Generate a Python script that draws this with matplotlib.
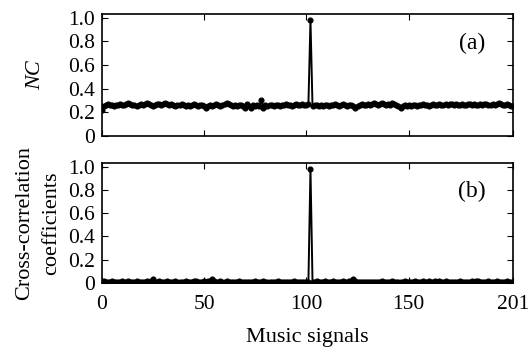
import matplotlib.pyplot as plt
import numpy as np

plt.rcParams["font.family"] = ["Liberation Serif", "DejaVu Serif"]
plt.rcParams["mathtext.fontset"] = "stix"

# signal index 0..201
signals = np.arange(202)

nc = [
    0.22, 0.25, 0.26, 0.27, 0.26, 0.26, 0.25, 0.26, 0.26, 0.27,
    0.26, 0.26, 0.27, 0.28, 0.27, 0.26, 0.26, 0.25, 0.26, 0.27,
    0.26, 0.27, 0.28, 0.27, 0.26, 0.25, 0.26, 0.27, 0.27, 0.26,
    0.27, 0.28, 0.27, 0.26, 0.27, 0.26, 0.25, 0.26, 0.26, 0.27,
    0.26, 0.25, 0.26, 0.25, 0.26, 0.27, 0.26, 0.25, 0.26, 0.26,
    0.25, 0.24, 0.25, 0.26, 0.25, 0.26, 0.27, 0.26, 0.25, 0.26,
    0.27, 0.28, 0.27, 0.26, 0.25, 0.26, 0.25, 0.26, 0.26, 0.25,
    0.24, 0.27, 0.25, 0.24, 0.26, 0.25, 0.26, 0.25, 0.30, 0.24,
    0.26, 0.25, 0.26, 0.26, 0.25, 0.26, 0.26, 0.25, 0.26, 0.26,
    0.27, 0.26, 0.26, 0.25, 0.26, 0.27, 0.26, 0.26, 0.27, 0.26,
    0.26, 0.27, 0.98, 0.25, 0.26, 0.26, 0.25, 0.26, 0.25, 0.26,
    0.26, 0.25, 0.26, 0.26, 0.27, 0.26, 0.25, 0.26, 0.27, 0.26,
    0.25, 0.26, 0.26, 0.25, 0.24, 0.25, 0.26, 0.27, 0.26, 0.26,
    0.27, 0.26, 0.27, 0.28, 0.27, 0.26, 0.27, 0.28, 0.27, 0.26,
    0.27, 0.26, 0.28, 0.27, 0.26, 0.25, 0.24, 0.25, 0.26, 0.25,
    0.26, 0.25, 0.26, 0.26, 0.25, 0.26, 0.26, 0.27, 0.26, 0.26,
    0.25, 0.26, 0.27, 0.26, 0.26, 0.27, 0.26, 0.26, 0.27, 0.26,
    0.27, 0.27, 0.26, 0.27, 0.26, 0.26, 0.27, 0.26, 0.26, 0.27,
    0.27, 0.26, 0.27, 0.26, 0.26, 0.27, 0.26, 0.27, 0.27, 0.26,
    0.26, 0.27, 0.26, 0.27, 0.28, 0.27, 0.26, 0.26, 0.27, 0.26,
    0.25, 0.25,
]

cc = [
    0.01, 0.02, 0.01, 0.01, 0.01, 0.02, 0.01, 0.01, 0.01, 0.01,
    0.02, 0.01, 0.01, 0.02, 0.01, 0.01, 0.01, 0.02, 0.01, 0.01,
    0.01, 0.01, 0.02, 0.01, 0.02, 0.03, 0.01, 0.01, 0.02, 0.01,
    0.01, 0.01, 0.02, 0.01, 0.01, 0.01, 0.02, 0.01, 0.01, 0.01,
    0.01, 0.02, 0.01, 0.01, 0.01, 0.02, 0.02, 0.01, 0.01, 0.01,
    0.02, 0.01, 0.02, 0.02, 0.03, 0.02, 0.01, 0.01, 0.02, 0.01,
    0.01, 0.02, 0.01, 0.01, 0.01, 0.01, 0.01, 0.02, 0.01, 0.01,
    0.01, 0.01, 0.01, 0.01, 0.01, 0.02, 0.01, 0.01, 0.01, 0.02,
    0.01, 0.01, 0.01, 0.01, 0.01, 0.01, 0.02, 0.01, 0.01, 0.01,
    0.01, 0.01, 0.01, 0.01, 0.02, 0.01, 0.01, 0.01, 0.01, 0.01,
    0.01, 0.01, 0.98, 0.01, 0.01, 0.02, 0.01, 0.01, 0.01, 0.02,
    0.01, 0.01, 0.01, 0.02, 0.01, 0.01, 0.01, 0.01, 0.02, 0.01,
    0.01, 0.02, 0.02, 0.03, 0.02, 0.01, 0.01, 0.01, 0.01, 0.01,
    0.01, 0.01, 0.01, 0.01, 0.01, 0.01, 0.01, 0.02, 0.01, 0.01,
    0.01, 0.01, 0.02, 0.01, 0.01, 0.01, 0.01, 0.01, 0.02, 0.01,
    0.01, 0.01, 0.01, 0.02, 0.01, 0.01, 0.01, 0.02, 0.01, 0.01,
    0.02, 0.01, 0.01, 0.02, 0.01, 0.02, 0.01, 0.01, 0.02, 0.01,
    0.01, 0.01, 0.01, 0.01, 0.01, 0.02, 0.01, 0.01, 0.01, 0.01,
    0.01, 0.02, 0.01, 0.02, 0.02, 0.01, 0.01, 0.01, 0.01, 0.02,
    0.01, 0.01, 0.01, 0.02, 0.01, 0.01, 0.01, 0.01, 0.02, 0.01,
    0.01, 0.01,
]

xticks = [0, 50, 100, 150, 201]
yticks = [0, 0.2, 0.4, 0.6, 0.8, 1.0]
ytick_labels = ["0", "0.2", "0.4", "0.6", "0.8", "1.0"]

fig = plt.figure(figsize=(5.3, 3.54), dpi=100)
ax_a = fig.add_axes([0.192, 0.616, 0.776, 0.344])
ax_b = fig.add_axes([0.192, 0.201, 0.776, 0.338])

for ax, vals, tag in [(ax_a, nc, "(a)"), (ax_b, cc, "(b)")]:
    ax.plot(signals, vals, "-o", color="black", lw=1.4, ms=3.4)
    ax.set_xlim(0, 201)
    ax.set_ylim(0, 1.03)
    ax.set_xticks(xticks)
    ax.set_yticks(yticks)
    ax.set_yticklabels(ytick_labels)
    ax.tick_params(direction="in", top=True, right=True, length=4,
                   width=0.8, labelsize=15.5, pad=5)
    for sp in ax.spines.values():
        sp.set_linewidth(1.2)
    ax.text(0.9, 0.76, tag, transform=ax.transAxes, fontsize=17,
            ha="center", va="center")

ax_a.set_xticklabels([])
ax_a.set_ylabel("NC", fontsize=16, fontstyle="italic", labelpad=16)
ax_b.set_ylabel("Cross-correlation\ncoefficients", fontsize=16, labelpad=5,
                linespacing=1.55)
ax_b.set_xlabel("Music signals", fontsize=16, labelpad=10)
ax_b.tick_params(axis="x", pad=9)

fig.savefig("out.png", dpi=100)
